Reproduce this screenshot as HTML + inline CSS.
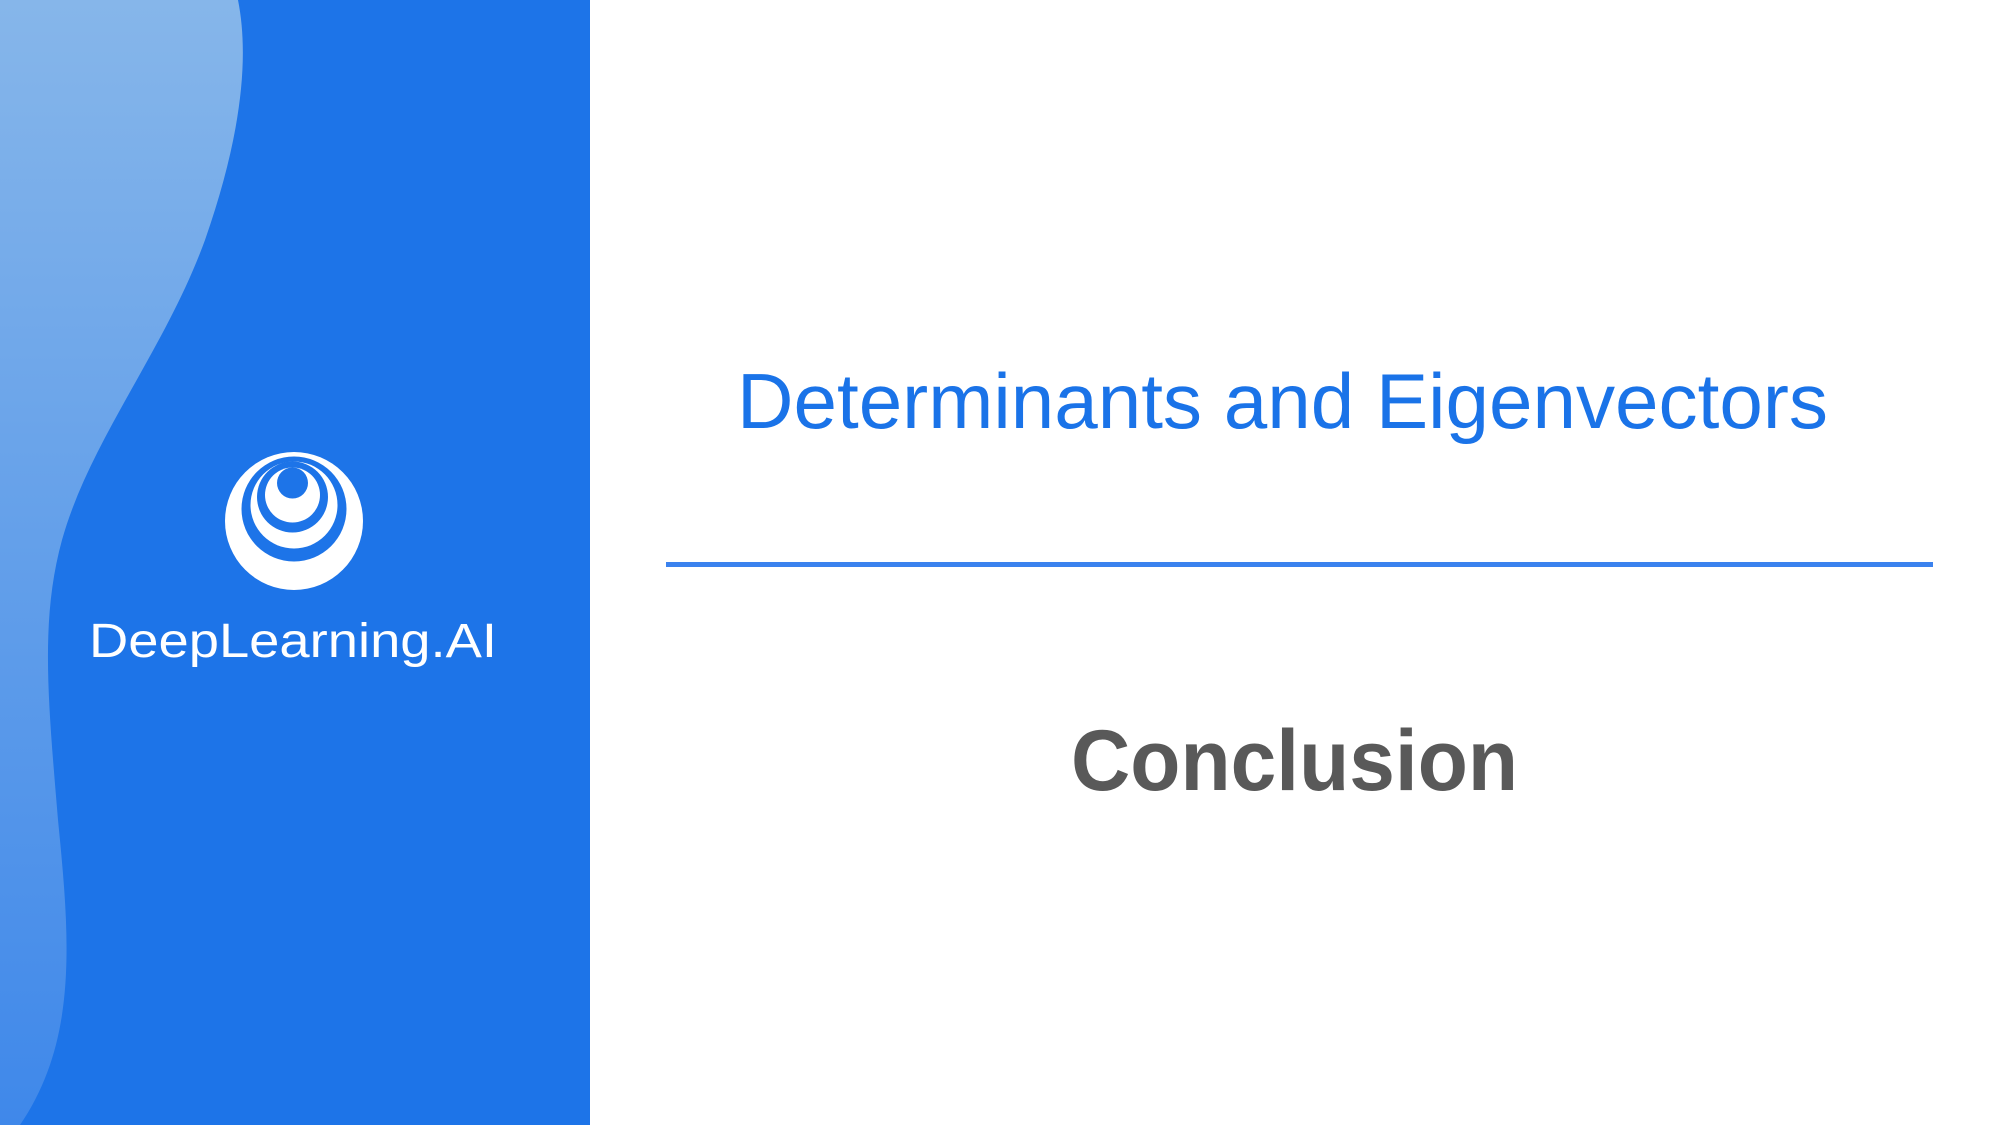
<!DOCTYPE html>
<html><head><meta charset="utf-8"><style>
html,body{margin:0;padding:0;background:#fff;}
svg{display:block}
</style></head><body>
<svg width="2000" height="1125" viewBox="0 0 2000 1125" xmlns="http://www.w3.org/2000/svg">
<defs>
<linearGradient id="g" x1="0" y1="0" x2="0" y2="1">
<stop offset="0" stop-color="#86b6ea"/>
<stop offset="1" stop-color="#3f88ea"/>
</linearGradient>
</defs>
<rect x="0" y="0" width="590" height="1125" fill="#1d74e8"/>
<path d="M0,0 L238,0 C250,60 240,140 205,240 C165,350 90,440 62,540 C40,620 48,700 58,820 C70,940 78,1040 20,1125 L0,1125 Z" fill="url(#g)"/>
<circle cx="294" cy="521" r="69" fill="#fff"/>
<circle cx="294" cy="509" r="52.5" fill="#1d74e8"/>
<circle cx="294" cy="505" r="43.5" fill="#fff"/>
<circle cx="292.5" cy="497" r="35.5" fill="#1d74e8"/>
<circle cx="292.5" cy="495" r="27.5" fill="#fff"/>
<circle cx="292.5" cy="483" r="15.5" fill="#1d74e8"/>
<text x="89" y="657" font-family="Liberation Sans, sans-serif" font-size="48" fill="#fff" textLength="408" lengthAdjust="spacingAndGlyphs">DeepLearning.AI</text>
<text x="737" y="428" font-family="Liberation Sans, sans-serif" font-size="78" fill="#1a73e8" textLength="1091" lengthAdjust="spacingAndGlyphs">Determinants and Eigenvectors</text>
<rect x="666" y="562" width="1267" height="5" fill="#3b82ee"/>
<text x="1071" y="790" font-family="Liberation Sans, sans-serif" font-size="86" font-weight="bold" fill="#595959" textLength="447" lengthAdjust="spacingAndGlyphs">Conclusion</text>
</svg>
</body></html>
